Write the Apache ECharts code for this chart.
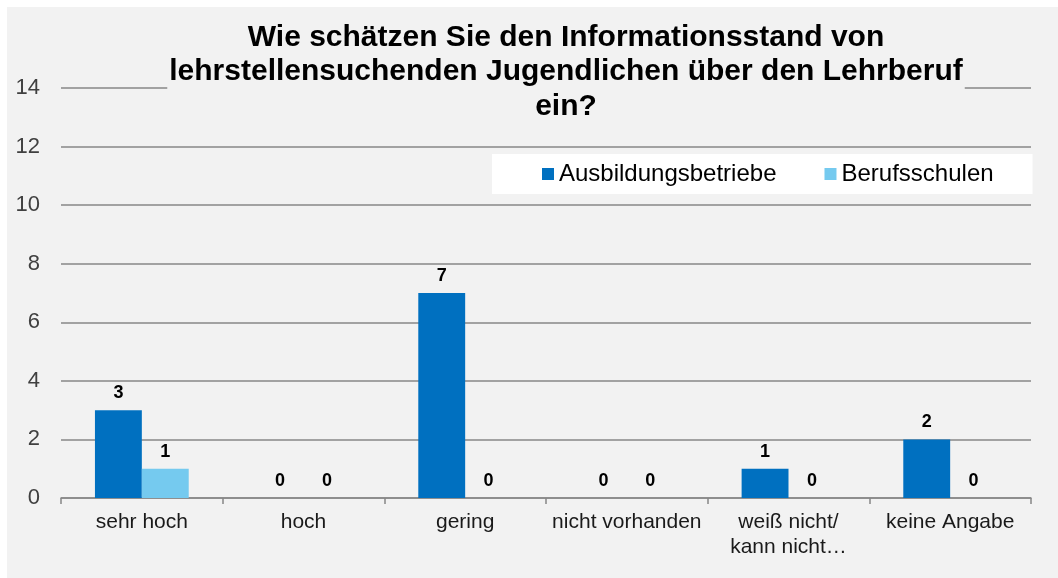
<!DOCTYPE html>
<html>
<head>
<meta charset="utf-8">
<script src="https://cdn.jsdelivr.net/npm/echarts@6/dist/echarts.min.js"></script>
<style>
  html, body { margin: 0; padding: 0; background: #ffffff; }
  #chart { position: absolute; left: 7px; top: 7px; width: 1051px; height: 571px; background: #f2f2f2; }
</style>
</head>
<body>
<div id="chart"></div>
<script>
// Daten
const categories = ["sehr hoch", "hoch", "gering", "nicht vorhanden", "weiß nicht/\nkann nicht…", "keine Angabe"];
const betriebe = [3, 0, 7, 0, 1, 2];
const schulen = [1, 0, 0, 0, 0, 0];
const seriesNames = ["Ausbildungsbetriebe", "Berufsschulen"];
const yTicks = { min: 0, max: 14, interval: 2 };

const font = "'Liberation Sans', Arial, sans-serif";

const myChart = echarts.init(document.getElementById("chart"));

const valueLabel = {
  show: true,
  position: "top",
  distance: 8,
  color: "#000",
  fontFamily: font,
  fontWeight: "bold",
  fontSize: 18,
};

const options = {
  animation: false,
  // Titel
  title: {
    text: "Wie schätzen Sie den Informationsstand von\nlehrstellensuchenden Jugendlichen über den Lehrberuf\nein?",
    left: 557,
    top: 9,
    textAlign: "center",
    padding: [4, 2, 4, 2],
    backgroundColor: "#f2f2f2",
    textStyle: {
      fontFamily: font,
      fontWeight: "bold",
      fontSize: 30,
      lineHeight: 34.5,
      color: "#000",
    },
  },
  // Legende
  legend: {
    data: seriesNames,
    left: 485,
    top: 147,
    icon: "rect",
    itemWidth: 12,
    itemHeight: 12,
    itemGap: 48,
    padding: [8, 39, 8, 50],
    backgroundColor: "#ffffff",
    textStyle: {
      fontFamily: font,
      fontSize: 24,
      color: "#000",
    },
  },
  grid: {
    left: 54,
    right: 27,
    top: 81,
    bottom: 80,
    containLabel: false,
  },
  xAxis: {
    type: "category",
    data: categories,
    axisLine: { lineStyle: { color: "#878787", width: 1.5 } },
    axisTick: { show: true, length: 6, lineStyle: { color: "#878787", width: 1.5 } },
    axisLabel: {
      interval: 0,
      margin: 12,
      fontFamily: font,
      fontSize: 21,
      lineHeight: 25,
      color: "#1a1a1a",
    },
  },
  yAxis: {
    type: "value",
    min: yTicks.min,
    max: yTicks.max,
    interval: yTicks.interval,
    axisLine: { show: false },
    axisTick: { show: false },
    splitLine: { lineStyle: { color: "#878787", width: 1.5 } },
    axisLabel: {
      margin: 21,
      fontFamily: font,
      fontSize: 22,
      color: "#404040",
    },
  },
  series: [
    {
      name: seriesNames[0],
      type: "bar",
      data: betriebe,
      barGap: "0%",
      barCategoryGap: "42%",
      itemStyle: { color: "#0070c0" },
      label: valueLabel,
    },
    {
      name: seriesNames[1],
      type: "bar",
      data: schulen,
      itemStyle: { color: "#75caef" },
      label: valueLabel,
    },
  ],
};

myChart.setOption(options);
</script>
</body>
</html>
